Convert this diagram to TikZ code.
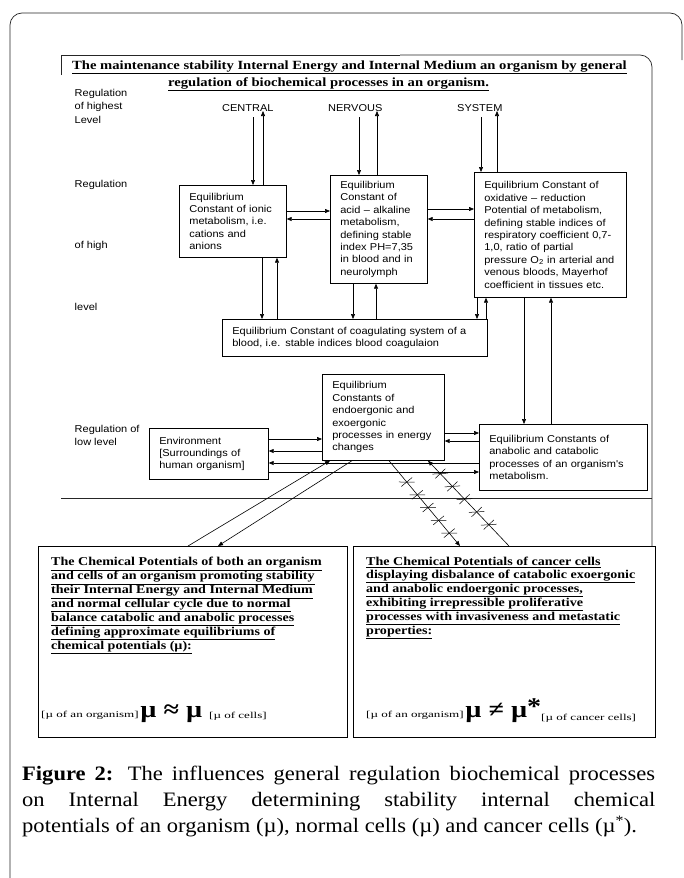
\documentclass[tikz,border=0pt]{standalone}
\usepackage{fontspec}
\usetikzlibrary{arrows.meta,decorations.markings}
\setmainfont{Liberation Serif}
\newfontfamily\boxfont[FakeStretch=1.1]{Liberation Sans}
\newfontfamily\headfont[FakeStretch=1.17]{Liberation Serif}
\newfontfamily\mufont[FakeStretch=1.45]{Liberation Serif}
\newfontfamily\capfont[FakeStretch=1.1]{Liberation Serif}

\tikzset{
    box/.style = {draw, line width=0.7pt, anchor=north west, inner xsep=10pt, inner ysep=2pt,
        align=left, font=\boxfont\fontsize{10}{12.4}\selectfont},
    lvl/.style = {anchor=base west, inner sep=0pt, align=left,
        font=\boxfont\fontsize{10}{13.5}\selectfont},
    cns/.style = {lvl, outer ysep=6pt},
    title/.style = {anchor=base west, inner sep=0pt,
        font=\headfont\bfseries\fontsize{12.5}{17}\selectfont},
    arr/.style = {-{Triangle[length=5pt,width=4pt]}, line width=0.6pt},
    frame/.style = {line width=0.7pt, black!85},
    potbox/.style = {draw, line width=0.7pt, anchor=north west, inner sep=0pt},
    pottext/.style = {anchor=north west, inner sep=0pt, align=left,
        font=\headfont\bfseries\fontsize{12}{12.6}\selectfont},
    mu/.style = {anchor=base west, inner sep=0pt, font=\headfont},
    crossed/.style = {postaction={decorate}, decoration={markings,
        mark=between positions 0.25 and 0.86 step 0.15 with {
            \draw[-, line width=0.5pt] (0pt,-7pt) -- (0pt,7pt);
            \draw[-, line width=0.5pt] (-5pt,-6pt) -- (5pt,6pt);}}}
}
\newcommand{\mubr}[1]{{\mufont\fontsize{9}{9}\selectfont[µ of #1]}}
\newcommand{\mubig}[1]{{\fontsize{24}{24}\selectfont\bfseries #1}}

\begin{document}
\begin{tikzpicture}[x=1pt, y=-1pt]
    \useasboundingbox (0,0) rectangle (683,878);

    % frames
    \draw[frame, rounded corners=12pt] (10,878) -- (10,13) -- (682,13) -- (682,60);
    \draw[frame] (61,75) -- (61,55) -- (400,55);
    \draw[frame, rounded corners=12pt] (400,55) -- (652,55) -- (652,546);
    \draw[frame] (61,498) -- (652,498);

    % title
    \node[title] (title1) at (72,69) {\underline{The maintenance stability Internal Energy and Internal Medium an organism by general}};
    \node[title] (title2) at (168,86) {\underline{regulation of biochemical processes in an organism.}};

    % levels of regulation
    \node[lvl, anchor=north west] (lvhighest) at (74.5,88.7) {Regulation\\of highest\\Level};
    \node[lvl] (lvhigh1) at (74.5,187) {Regulation};
    \node[lvl] (lvhigh2) at (74.5,248) {of high};
    \node[lvl] (lvhigh3) at (74.5,310) {level};
    \node[lvl, anchor=north west] (lvlow) at (74.5,424.7) {Regulation of\\low level};

    % central nervous system
    \node[cns] (central) at (222,111) {CENTRAL};
    \node[cns] (nervous) at (328,111) {NERVOUS};
    \node[cns] (system) at (457,111) {SYSTEM};

    % equilibrium constants
    \node[box, minimum width=107pt, minimum height=72pt, text width=87pt] (ionic) at (179,185)
        {Equilibrium\\Constant of ionic\\metabolism, i.e.\\cations and\\anions};
    \node[box, minimum width=97pt, minimum height=108pt, text width=77pt] (acid) at (330,175)
        {Equilibrium\\Constant of\\acid \textendash{} alkaline\\metabolism,\\defining stable\\index PH=7,35\\in blood and in\\neurolymph};
    \node[box, minimum width=152pt, minimum height=125pt, text width=132pt] (oxid) at (474,172)
        {Equilibrium Constant of\\oxidative \textendash{} reduction\\Potential of metabolism,\\defining stable indices of\\respiratory coefficient 0,7-\\1,0, ratio of partial\\pressure O\textsubscript{2} in arterial and\\venous bloods, Mayerhof\\coefficient in tissues etc.};
    \node[box, minimum width=265pt, minimum height=37pt, text width=245pt] (coag) at (222,319)
        {Equilibrium Constant of coagulating system of a\\blood, i.e. stable indices blood coagulaion};
    \node[box, minimum width=122pt, minimum height=86pt, text width=102pt] (energy) at (322,374)
        {Equilibrium\\Constants of\\endoergonic and\\exoergonic\\processes in energy\\changes};
    \node[box, minimum width=119pt, minimum height=51pt, text width=99pt] (env) at (149,428)
        {Environment\\{[}Surroundings of\\human organism{]}};
    \node[box, minimum width=168pt, minimum height=66pt, text width=148pt] (anabolic) at (479,424)
        {Equilibrium Constants of\\anabolic and catabolic\\processes of an organism's\\metabolism.};

    % chemical potentials
    \node[potbox, minimum width=309pt, minimum height=191pt] (normal) at (38,546) {};
    \node[potbox, minimum width=302pt, minimum height=191pt] (cancer) at (353,546) {};
    \node[pottext] (normaltext) at (51,557)
        {\underline{The Chemical Potentials of both an organism}\\
         \underline{and cells of an organism promoting stability}\\
         \underline{their Internal Energy and Internal Medium}\\
         \underline{and normal cellular cycle due to normal}\\
         \underline{balance catabolic and anabolic processes}\\
         \underline{defining approximate equilibriums of}\\
         \underline{chemical potentials (µ):}};
    \node[pottext] (cancertext) at (366,557)
        {\underline{The Chemical Potentials of cancer cells}\\
         \underline{displaying disbalance of catabolic exoergonic}\\
         \underline{and anabolic endoergonic processes,}\\
         \underline{exhibiting irrepressible proliferative}\\
         \underline{processes with invasiveness and metastatic}\\
         \underline{properties:}};
    \node[mu] (normalmu) at (41,717)
        {\mubr{an organism}\,\mubig{µ ≈ µ}\hspace{7pt}\raisebox{-1pt}{\mubr{cells}}};
    \node[mu] (cancermu) at (366,717)
        {\mubr{an organism}\,\mubig{µ ≠ µ\raisebox{3pt}{*}}\raisebox{-3pt}{\mubr{cancer cells}}};

    % caption
    \node[anchor=north west, inner sep=0pt, text width=633pt, align=justify,
        font=\capfont\fontsize{20.5}{26}\selectfont] (caption) at (22,766)
        {\textbf{Figure 2:} The influences general regulation biochemical processes\linebreak
         on Internal Energy determining stability internal chemical\linebreak
         potentials of an organism (µ), normal cells (µ) and cancer cells (µ\textsuperscript{*}).};

    % columns and rows of the arrows
    \foreach \x in {253,263,359,377,481,497,262,277,353,376,477,486,524,551,188,218,330,352,389,428,460,509}
        \coordinate (x\x) at (\x,0);
    \foreach \y in {209,211,219,433,439,441,451,463,472}
        \coordinate (y\y) at (0,\y);

    % highest level
    \draw[arr] (central.south -| x253) -- (ionic.north -| x253);
    \draw[arr] (ionic.north -| x263) -- (central.base -| x263);
    \draw[arr] (nervous.south -| x359) -- (acid.north -| x359);
    \draw[arr] (acid.north -| x377) -- (nervous.base -| x377);
    \draw[arr] (system.south -| x481) -- (oxid.north -| x481);
    \draw[arr] (oxid.north -| x497) -- (system.base -| x497);

    % high level
    \draw[arr] (ionic.east |- y211) -- (acid.west |- y211);
    \draw[arr] (acid.west |- y219) -- (ionic.east |- y219);
    \draw[arr] (acid.east |- y209) -- (oxid.west |- y209);
    \draw[arr] (oxid.west |- y219) -- (acid.east |- y219);
    \draw[arr] (ionic.south -| x262) -- (coag.north -| x262);
    \draw[arr] (coag.north -| x277) -- (ionic.south -| x277);
    \draw[arr] (acid.south -| x353) -- (coag.north -| x353);
    \draw[arr] (coag.north -| x376) -- (acid.south -| x376);
    \draw[arr] (oxid.south -| x477) -- (coag.north -| x477);
    \draw[arr] (coag.north -| x486) -- (oxid.south -| x486);
    \draw[arr] (oxid.south -| x524) -- (anabolic.north -| x524);
    \draw[arr] (anabolic.north -| x551) -- (oxid.south -| x551);

    % low level
    \draw[arr] (energy.east |- y433) -- (anabolic.west |- y433);
    \draw[arr] (anabolic.west |- y441) -- (energy.east |- y441);
    \draw[arr] (env.east |- y439) -- (energy.west |- y439);
    \draw[arr] (energy.west |- y451) -- (env.east |- y451);
    \draw[arr] (anabolic.west |- y463) -- (env.east |- y463);
    \draw[arr] (env.east |- y472) -- (anabolic.west |- y472);

    % to the chemical potentials
    \draw[arr] (normal.north -| x188) -- (energy.south -| x330);
    \draw[arr] (energy.south -| x352) -- (normal.north -| x218);
    \draw[arr, crossed] (energy.south -| x389) -- (cancer.north -| x460);
    \draw[arr, crossed] (cancer.north -| x509) -- (energy.south -| x428);
\end{tikzpicture}
\end{document}
